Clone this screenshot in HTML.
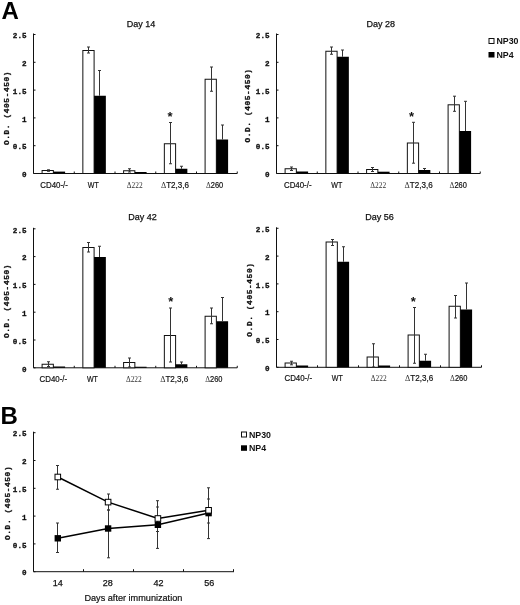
<!DOCTYPE html>
<html><head><meta charset="utf-8"><title>Figure</title>
<style>html,body{margin:0;padding:0;background:#fff;}svg{display:block;will-change:transform;}</style>
</head><body>
<svg width="520" height="605" viewBox="0 0 520 605">
<rect width="520" height="605" fill="#fff"/>
<text x="1.5" y="19" font-family="Liberation Sans, sans-serif" font-weight="bold" font-size="24" fill="#000">A</text>
<text x="0.5" y="424.3" font-family="Liberation Sans, sans-serif" font-weight="bold" font-size="24" fill="#000">B</text>
<line x1="33.5" y1="33.5" x2="33.5" y2="173.5" stroke="#111" stroke-width="1"/>
<line x1="33.5" y1="173.5" x2="35.5" y2="173.5" stroke="#111" stroke-width="1"/>
<text x="26.5" y="177.2" font-family="Liberation Mono, monospace" font-weight="bold" font-size="7.6" text-anchor="end" fill="#111" stroke="#111" stroke-width="0.3">0</text>
<line x1="33.5" y1="145.7" x2="35.5" y2="145.7" stroke="#111" stroke-width="1"/>
<text x="26.5" y="149.39999999999998" font-family="Liberation Mono, monospace" font-weight="bold" font-size="7.6" text-anchor="end" fill="#111" stroke="#111" stroke-width="0.3">0.5</text>
<line x1="33.5" y1="117.9" x2="35.5" y2="117.9" stroke="#111" stroke-width="1"/>
<text x="26.5" y="121.60000000000001" font-family="Liberation Mono, monospace" font-weight="bold" font-size="7.6" text-anchor="end" fill="#111" stroke="#111" stroke-width="0.3">1</text>
<line x1="33.5" y1="90.1" x2="35.5" y2="90.1" stroke="#111" stroke-width="1"/>
<text x="26.5" y="93.8" font-family="Liberation Mono, monospace" font-weight="bold" font-size="7.6" text-anchor="end" fill="#111" stroke="#111" stroke-width="0.3">1.5</text>
<line x1="33.5" y1="62.3" x2="35.5" y2="62.3" stroke="#111" stroke-width="1"/>
<text x="26.5" y="66.0" font-family="Liberation Mono, monospace" font-weight="bold" font-size="7.6" text-anchor="end" fill="#111" stroke="#111" stroke-width="0.3">2</text>
<line x1="33.5" y1="34.5" x2="35.5" y2="34.5" stroke="#111" stroke-width="1"/>
<text x="26.5" y="38.2" font-family="Liberation Mono, monospace" font-weight="bold" font-size="7.6" text-anchor="end" fill="#111" stroke="#111" stroke-width="0.3">2.5</text>
<text transform="translate(8.8,107.95) rotate(-90)" font-family="Liberation Mono, monospace" font-weight="bold" font-size="7.8" letter-spacing="0.62" text-anchor="middle" fill="#111" stroke="#111" stroke-width="0.3">O.D. (405-450)</text>
<line x1="33.5" y1="173.5" x2="237.25" y2="173.5" stroke="#111" stroke-width="1"/>
<line x1="74.25" y1="173.5" x2="74.25" y2="171.5" stroke="#111" stroke-width="1"/>
<line x1="115.0" y1="173.5" x2="115.0" y2="171.5" stroke="#111" stroke-width="1"/>
<line x1="155.75" y1="173.5" x2="155.75" y2="171.5" stroke="#111" stroke-width="1"/>
<line x1="196.5" y1="173.5" x2="196.5" y2="171.5" stroke="#111" stroke-width="1"/>
<line x1="237.25" y1="173.5" x2="237.25" y2="171.5" stroke="#111" stroke-width="1"/>
<text x="141" y="26.8" font-family="Liberation Sans, sans-serif" font-size="9" stroke="#111" stroke-width="0.25" text-anchor="middle" fill="#111">Day 14</text>
<rect x="42.1" y="170.5" width="11.25" height="3.0" fill="#fff" stroke="#111" stroke-width="1"/>
<rect x="53.35" y="171.6" width="11.75" height="1.9000000000000057" fill="#000"/>
<line x1="48.5" y1="169.8" x2="48.5" y2="171.3" stroke="#333" stroke-width="1"/>
<line x1="47.0" y1="169.8" x2="50.0" y2="169.8" stroke="#333" stroke-width="1"/>
<line x1="47.0" y1="171.3" x2="50.0" y2="171.3" stroke="#333" stroke-width="1"/>
<text x="54.15" y="187.7" font-family="Liberation Sans, sans-serif" font-size="8.7" textLength="27.6" lengthAdjust="spacingAndGlyphs" stroke="#111" stroke-width="0.2" text-anchor="middle" fill="#111">CD40-/-</text>
<rect x="82.85" y="50.5" width="11.25" height="123.0" fill="#fff" stroke="#111" stroke-width="1"/>
<rect x="94.1" y="95.75" width="11.75" height="77.75" fill="#000"/>
<line x1="88.5" y1="47" x2="88.5" y2="53" stroke="#333" stroke-width="1"/>
<line x1="87.0" y1="47" x2="90.0" y2="47" stroke="#333" stroke-width="1"/>
<line x1="87.0" y1="53" x2="90.0" y2="53" stroke="#333" stroke-width="1"/>
<line x1="99.5" y1="70.5" x2="99.5" y2="95.75" stroke="#333" stroke-width="1"/>
<line x1="98.0" y1="70.5" x2="101.0" y2="70.5" stroke="#333" stroke-width="1"/>
<text x="93.25" y="187.7" font-family="Liberation Sans, sans-serif" font-size="8.7" textLength="11" lengthAdjust="spacingAndGlyphs" stroke="#111" stroke-width="0.2" text-anchor="middle" fill="#111">WT</text>
<rect x="123.6" y="170.75" width="11.25" height="2.75" fill="#fff" stroke="#111" stroke-width="1"/>
<rect x="134.85" y="172" width="11.75" height="1.5" fill="#000"/>
<line x1="129.5" y1="168.75" x2="129.5" y2="172" stroke="#333" stroke-width="1"/>
<line x1="128.0" y1="168.75" x2="131.0" y2="168.75" stroke="#333" stroke-width="1"/>
<line x1="128.0" y1="172" x2="131.0" y2="172" stroke="#333" stroke-width="1"/>
<text x="134.65" y="187.7" font-family="Liberation Serif, serif" font-size="8.5" textLength="15.9" lengthAdjust="spacingAndGlyphs" text-anchor="middle" fill="#333">Δ222</text>
<rect x="164.35" y="143.75" width="11.25" height="29.75" fill="#fff" stroke="#111" stroke-width="1"/>
<rect x="175.6" y="168.75" width="11.75" height="4.75" fill="#000"/>
<line x1="170.5" y1="122.5" x2="170.5" y2="163.75" stroke="#333" stroke-width="1"/>
<line x1="169.0" y1="122.5" x2="172.0" y2="122.5" stroke="#333" stroke-width="1"/>
<line x1="169.0" y1="163.75" x2="172.0" y2="163.75" stroke="#333" stroke-width="1"/>
<line x1="181.5" y1="166.25" x2="181.5" y2="168.75" stroke="#333" stroke-width="1"/>
<line x1="180.0" y1="166.25" x2="183.0" y2="166.25" stroke="#333" stroke-width="1"/>
<text x="175.0" y="187.7" font-family="Liberation Sans, sans-serif" font-size="8.4" textLength="28.1" lengthAdjust="spacingAndGlyphs" stroke="#111" stroke-width="0.2" text-anchor="middle" fill="#111"><tspan font-family="Liberation Serif, serif" font-size="8.5" stroke="none" fill="#333">Δ</tspan>T2,3,6</text>
<rect x="205.1" y="79.25" width="11.25" height="94.25" fill="#fff" stroke="#111" stroke-width="1"/>
<rect x="216.35" y="139.5" width="11.75" height="34.0" fill="#000"/>
<line x1="211.5" y1="67" x2="211.5" y2="91.25" stroke="#333" stroke-width="1"/>
<line x1="210.0" y1="67" x2="213.0" y2="67" stroke="#333" stroke-width="1"/>
<line x1="210.0" y1="91.25" x2="213.0" y2="91.25" stroke="#333" stroke-width="1"/>
<line x1="222.5" y1="125" x2="222.5" y2="139.5" stroke="#333" stroke-width="1"/>
<line x1="221.0" y1="125" x2="224.0" y2="125" stroke="#333" stroke-width="1"/>
<text x="214.6" y="187.7" font-family="Liberation Sans, sans-serif" font-size="8.4" textLength="17.3" lengthAdjust="spacingAndGlyphs" stroke="#111" stroke-width="0.2" text-anchor="middle" fill="#111"><tspan font-family="Liberation Serif, serif" font-size="8.5" stroke="none" fill="#333">Δ</tspan>260</text>
<text x="170" y="120.95" font-family="Liberation Sans, sans-serif" font-size="13" font-weight="bold" text-anchor="middle" fill="#111">*</text>
<line x1="276.5" y1="33.5" x2="276.5" y2="173.5" stroke="#111" stroke-width="1"/>
<line x1="276.5" y1="173.5" x2="278.5" y2="173.5" stroke="#111" stroke-width="1"/>
<text x="269.5" y="177.2" font-family="Liberation Mono, monospace" font-weight="bold" font-size="7.6" text-anchor="end" fill="#111" stroke="#111" stroke-width="0.3">0</text>
<line x1="276.5" y1="145.7" x2="278.5" y2="145.7" stroke="#111" stroke-width="1"/>
<text x="269.5" y="149.39999999999998" font-family="Liberation Mono, monospace" font-weight="bold" font-size="7.6" text-anchor="end" fill="#111" stroke="#111" stroke-width="0.3">0.5</text>
<line x1="276.5" y1="117.9" x2="278.5" y2="117.9" stroke="#111" stroke-width="1"/>
<text x="269.5" y="121.60000000000001" font-family="Liberation Mono, monospace" font-weight="bold" font-size="7.6" text-anchor="end" fill="#111" stroke="#111" stroke-width="0.3">1</text>
<line x1="276.5" y1="90.1" x2="278.5" y2="90.1" stroke="#111" stroke-width="1"/>
<text x="269.5" y="93.8" font-family="Liberation Mono, monospace" font-weight="bold" font-size="7.6" text-anchor="end" fill="#111" stroke="#111" stroke-width="0.3">1.5</text>
<line x1="276.5" y1="62.3" x2="278.5" y2="62.3" stroke="#111" stroke-width="1"/>
<text x="269.5" y="66.0" font-family="Liberation Mono, monospace" font-weight="bold" font-size="7.6" text-anchor="end" fill="#111" stroke="#111" stroke-width="0.3">2</text>
<line x1="276.5" y1="34.5" x2="278.5" y2="34.5" stroke="#111" stroke-width="1"/>
<text x="269.5" y="38.2" font-family="Liberation Mono, monospace" font-weight="bold" font-size="7.6" text-anchor="end" fill="#111" stroke="#111" stroke-width="0.3">2.5</text>
<text transform="translate(249.9,105.5) rotate(-90)" font-family="Liberation Mono, monospace" font-weight="bold" font-size="7.8" letter-spacing="0.62" text-anchor="middle" fill="#111" stroke="#111" stroke-width="0.3">O.D. (405-450)</text>
<line x1="276.5" y1="173.5" x2="480.25" y2="173.5" stroke="#111" stroke-width="1"/>
<line x1="317.25" y1="173.5" x2="317.25" y2="171.5" stroke="#111" stroke-width="1"/>
<line x1="358.0" y1="173.5" x2="358.0" y2="171.5" stroke="#111" stroke-width="1"/>
<line x1="398.75" y1="173.5" x2="398.75" y2="171.5" stroke="#111" stroke-width="1"/>
<line x1="439.5" y1="173.5" x2="439.5" y2="171.5" stroke="#111" stroke-width="1"/>
<line x1="480.25" y1="173.5" x2="480.25" y2="171.5" stroke="#111" stroke-width="1"/>
<text x="380.8" y="26.6" font-family="Liberation Sans, sans-serif" font-size="9" stroke="#111" stroke-width="0.25" text-anchor="middle" fill="#111">Day 28</text>
<rect x="285.1" y="168.75" width="11.25" height="4.75" fill="#fff" stroke="#111" stroke-width="1"/>
<rect x="296.35" y="171.5" width="11.75" height="2.0" fill="#000"/>
<line x1="291.5" y1="167" x2="291.5" y2="170.5" stroke="#333" stroke-width="1"/>
<line x1="290.0" y1="167" x2="293.0" y2="167" stroke="#333" stroke-width="1"/>
<line x1="290.0" y1="170.5" x2="293.0" y2="170.5" stroke="#333" stroke-width="1"/>
<text x="297.75" y="187.6" font-family="Liberation Sans, sans-serif" font-size="8.7" textLength="27.6" lengthAdjust="spacingAndGlyphs" stroke="#111" stroke-width="0.2" text-anchor="middle" fill="#111">CD40-/-</text>
<rect x="325.85" y="51.25" width="11.25" height="122.25" fill="#fff" stroke="#111" stroke-width="1"/>
<rect x="337.1" y="56.75" width="11.75" height="116.75" fill="#000"/>
<line x1="331.5" y1="47" x2="331.5" y2="54.25" stroke="#333" stroke-width="1"/>
<line x1="330.0" y1="47" x2="333.0" y2="47" stroke="#333" stroke-width="1"/>
<line x1="330.0" y1="54.25" x2="333.0" y2="54.25" stroke="#333" stroke-width="1"/>
<line x1="342.5" y1="50" x2="342.5" y2="56.75" stroke="#333" stroke-width="1"/>
<line x1="341.0" y1="50" x2="344.0" y2="50" stroke="#333" stroke-width="1"/>
<text x="336.85" y="187.6" font-family="Liberation Sans, sans-serif" font-size="8.7" textLength="11" lengthAdjust="spacingAndGlyphs" stroke="#111" stroke-width="0.2" text-anchor="middle" fill="#111">WT</text>
<rect x="366.6" y="169.5" width="11.25" height="4.0" fill="#fff" stroke="#111" stroke-width="1"/>
<rect x="377.85" y="171.7" width="11.75" height="1.8000000000000114" fill="#000"/>
<line x1="372.5" y1="167.5" x2="372.5" y2="171.5" stroke="#333" stroke-width="1"/>
<line x1="371.0" y1="167.5" x2="374.0" y2="167.5" stroke="#333" stroke-width="1"/>
<line x1="371.0" y1="171.5" x2="374.0" y2="171.5" stroke="#333" stroke-width="1"/>
<text x="378.25" y="187.6" font-family="Liberation Serif, serif" font-size="8.5" textLength="15.9" lengthAdjust="spacingAndGlyphs" text-anchor="middle" fill="#333">Δ222</text>
<rect x="407.35" y="143" width="11.25" height="30.5" fill="#fff" stroke="#111" stroke-width="1"/>
<rect x="418.6" y="170" width="11.75" height="3.5" fill="#000"/>
<line x1="413.5" y1="122.3" x2="413.5" y2="163.2" stroke="#333" stroke-width="1"/>
<line x1="412.0" y1="122.3" x2="415.0" y2="122.3" stroke="#333" stroke-width="1"/>
<line x1="412.0" y1="163.2" x2="415.0" y2="163.2" stroke="#333" stroke-width="1"/>
<line x1="424.5" y1="168.5" x2="424.5" y2="170" stroke="#333" stroke-width="1"/>
<line x1="423.0" y1="168.5" x2="426.0" y2="168.5" stroke="#333" stroke-width="1"/>
<text x="418.6" y="187.6" font-family="Liberation Sans, sans-serif" font-size="8.4" textLength="28.1" lengthAdjust="spacingAndGlyphs" stroke="#111" stroke-width="0.2" text-anchor="middle" fill="#111"><tspan font-family="Liberation Serif, serif" font-size="8.5" stroke="none" fill="#333">Δ</tspan>T2,3,6</text>
<rect x="448.1" y="104.8" width="11.25" height="68.7" fill="#fff" stroke="#111" stroke-width="1"/>
<rect x="459.35" y="131" width="11.75" height="42.5" fill="#000"/>
<line x1="454.5" y1="96.2" x2="454.5" y2="111.3" stroke="#333" stroke-width="1"/>
<line x1="453.0" y1="96.2" x2="456.0" y2="96.2" stroke="#333" stroke-width="1"/>
<line x1="453.0" y1="111.3" x2="456.0" y2="111.3" stroke="#333" stroke-width="1"/>
<line x1="465.5" y1="101.3" x2="465.5" y2="131" stroke="#333" stroke-width="1"/>
<line x1="464.0" y1="101.3" x2="467.0" y2="101.3" stroke="#333" stroke-width="1"/>
<text x="458.20000000000005" y="187.6" font-family="Liberation Sans, sans-serif" font-size="8.4" textLength="17.3" lengthAdjust="spacingAndGlyphs" stroke="#111" stroke-width="0.2" text-anchor="middle" fill="#111"><tspan font-family="Liberation Serif, serif" font-size="8.5" stroke="none" fill="#333">Δ</tspan>260</text>
<text x="411.5" y="121.2" font-family="Liberation Sans, sans-serif" font-size="13" font-weight="bold" text-anchor="middle" fill="#111">*</text>
<line x1="33.5" y1="227.8" x2="33.5" y2="367.8" stroke="#111" stroke-width="1"/>
<line x1="33.5" y1="367.8" x2="35.5" y2="367.8" stroke="#111" stroke-width="1"/>
<text x="26.5" y="371.5" font-family="Liberation Mono, monospace" font-weight="bold" font-size="7.6" text-anchor="end" fill="#111" stroke="#111" stroke-width="0.3">0</text>
<line x1="33.5" y1="340.0" x2="35.5" y2="340.0" stroke="#111" stroke-width="1"/>
<text x="26.5" y="343.7" font-family="Liberation Mono, monospace" font-weight="bold" font-size="7.6" text-anchor="end" fill="#111" stroke="#111" stroke-width="0.3">0.5</text>
<line x1="33.5" y1="312.2" x2="35.5" y2="312.2" stroke="#111" stroke-width="1"/>
<text x="26.5" y="315.9" font-family="Liberation Mono, monospace" font-weight="bold" font-size="7.6" text-anchor="end" fill="#111" stroke="#111" stroke-width="0.3">1</text>
<line x1="33.5" y1="284.4" x2="35.5" y2="284.4" stroke="#111" stroke-width="1"/>
<text x="26.5" y="288.09999999999997" font-family="Liberation Mono, monospace" font-weight="bold" font-size="7.6" text-anchor="end" fill="#111" stroke="#111" stroke-width="0.3">1.5</text>
<line x1="33.5" y1="256.6" x2="35.5" y2="256.6" stroke="#111" stroke-width="1"/>
<text x="26.5" y="260.3" font-family="Liberation Mono, monospace" font-weight="bold" font-size="7.6" text-anchor="end" fill="#111" stroke="#111" stroke-width="0.3">2</text>
<line x1="33.5" y1="228.8" x2="35.5" y2="228.8" stroke="#111" stroke-width="1"/>
<text x="26.5" y="232.5" font-family="Liberation Mono, monospace" font-weight="bold" font-size="7.6" text-anchor="end" fill="#111" stroke="#111" stroke-width="0.3">2.5</text>
<text transform="translate(9.1,301.0) rotate(-90)" font-family="Liberation Mono, monospace" font-weight="bold" font-size="7.8" letter-spacing="0.62" text-anchor="middle" fill="#111" stroke="#111" stroke-width="0.3">O.D. (405-450)</text>
<line x1="33.5" y1="367.8" x2="237.25" y2="367.8" stroke="#111" stroke-width="1"/>
<line x1="74.25" y1="367.8" x2="74.25" y2="365.8" stroke="#111" stroke-width="1"/>
<line x1="115.0" y1="367.8" x2="115.0" y2="365.8" stroke="#111" stroke-width="1"/>
<line x1="155.75" y1="367.8" x2="155.75" y2="365.8" stroke="#111" stroke-width="1"/>
<line x1="196.5" y1="367.8" x2="196.5" y2="365.8" stroke="#111" stroke-width="1"/>
<line x1="237.25" y1="367.8" x2="237.25" y2="365.8" stroke="#111" stroke-width="1"/>
<text x="142.5" y="219.7" font-family="Liberation Sans, sans-serif" font-size="9" stroke="#111" stroke-width="0.25" text-anchor="middle" fill="#111">Day 42</text>
<rect x="42.1" y="364.25" width="11.25" height="3.5500000000000114" fill="#fff" stroke="#111" stroke-width="1"/>
<rect x="53.35" y="366.5" width="11.75" height="1.3000000000000114" fill="#000"/>
<line x1="48.5" y1="361.75" x2="48.5" y2="366.5" stroke="#333" stroke-width="1"/>
<line x1="47.0" y1="361.75" x2="50.0" y2="361.75" stroke="#333" stroke-width="1"/>
<line x1="47.0" y1="366.5" x2="50.0" y2="366.5" stroke="#333" stroke-width="1"/>
<text x="53.35" y="381.7" font-family="Liberation Sans, sans-serif" font-size="8.7" textLength="27.6" lengthAdjust="spacingAndGlyphs" stroke="#111" stroke-width="0.2" text-anchor="middle" fill="#111">CD40-/-</text>
<rect x="82.85" y="247.5" width="11.25" height="120.30000000000001" fill="#fff" stroke="#111" stroke-width="1"/>
<rect x="94.1" y="257" width="11.75" height="110.80000000000001" fill="#000"/>
<line x1="88.5" y1="242.5" x2="88.5" y2="252" stroke="#333" stroke-width="1"/>
<line x1="87.0" y1="242.5" x2="90.0" y2="242.5" stroke="#333" stroke-width="1"/>
<line x1="87.0" y1="252" x2="90.0" y2="252" stroke="#333" stroke-width="1"/>
<line x1="99.5" y1="246.25" x2="99.5" y2="257" stroke="#333" stroke-width="1"/>
<line x1="98.0" y1="246.25" x2="101.0" y2="246.25" stroke="#333" stroke-width="1"/>
<text x="92.45" y="381.7" font-family="Liberation Sans, sans-serif" font-size="8.7" textLength="11" lengthAdjust="spacingAndGlyphs" stroke="#111" stroke-width="0.2" text-anchor="middle" fill="#111">WT</text>
<rect x="123.6" y="362.5" width="11.25" height="5.300000000000011" fill="#fff" stroke="#111" stroke-width="1"/>
<rect x="134.85" y="366.75" width="11.75" height="1.0500000000000114" fill="#000"/>
<line x1="129.5" y1="358" x2="129.5" y2="367" stroke="#333" stroke-width="1"/>
<line x1="128.0" y1="358" x2="131.0" y2="358" stroke="#333" stroke-width="1"/>
<line x1="128.0" y1="367" x2="131.0" y2="367" stroke="#333" stroke-width="1"/>
<text x="133.85" y="381.7" font-family="Liberation Serif, serif" font-size="8.5" textLength="15.9" lengthAdjust="spacingAndGlyphs" text-anchor="middle" fill="#333">Δ222</text>
<rect x="164.35" y="335.5" width="11.25" height="32.30000000000001" fill="#fff" stroke="#111" stroke-width="1"/>
<rect x="175.6" y="364.25" width="11.75" height="3.5500000000000114" fill="#000"/>
<line x1="170.5" y1="308" x2="170.5" y2="362" stroke="#333" stroke-width="1"/>
<line x1="169.0" y1="308" x2="172.0" y2="308" stroke="#333" stroke-width="1"/>
<line x1="169.0" y1="362" x2="172.0" y2="362" stroke="#333" stroke-width="1"/>
<line x1="181.5" y1="362" x2="181.5" y2="364.25" stroke="#333" stroke-width="1"/>
<line x1="180.0" y1="362" x2="183.0" y2="362" stroke="#333" stroke-width="1"/>
<text x="174.2" y="381.7" font-family="Liberation Sans, sans-serif" font-size="8.4" textLength="28.1" lengthAdjust="spacingAndGlyphs" stroke="#111" stroke-width="0.2" text-anchor="middle" fill="#111"><tspan font-family="Liberation Serif, serif" font-size="8.5" stroke="none" fill="#333">Δ</tspan>T2,3,6</text>
<rect x="205.1" y="316.25" width="11.25" height="51.55000000000001" fill="#fff" stroke="#111" stroke-width="1"/>
<rect x="216.35" y="321.25" width="11.75" height="46.55000000000001" fill="#000"/>
<line x1="211.5" y1="308" x2="211.5" y2="323.75" stroke="#333" stroke-width="1"/>
<line x1="210.0" y1="308" x2="213.0" y2="308" stroke="#333" stroke-width="1"/>
<line x1="210.0" y1="323.75" x2="213.0" y2="323.75" stroke="#333" stroke-width="1"/>
<line x1="222.5" y1="297.5" x2="222.5" y2="321.25" stroke="#333" stroke-width="1"/>
<line x1="221.0" y1="297.5" x2="224.0" y2="297.5" stroke="#333" stroke-width="1"/>
<text x="213.79999999999998" y="381.7" font-family="Liberation Sans, sans-serif" font-size="8.4" textLength="17.3" lengthAdjust="spacingAndGlyphs" stroke="#111" stroke-width="0.2" text-anchor="middle" fill="#111"><tspan font-family="Liberation Serif, serif" font-size="8.5" stroke="none" fill="#333">Δ</tspan>260</text>
<text x="170.75" y="305.95" font-family="Liberation Sans, sans-serif" font-size="13" font-weight="bold" text-anchor="middle" fill="#111">*</text>
<line x1="276.5" y1="227.3" x2="276.5" y2="367.3" stroke="#111" stroke-width="1"/>
<line x1="276.5" y1="367.3" x2="278.5" y2="367.3" stroke="#111" stroke-width="1"/>
<text x="269.5" y="371.0" font-family="Liberation Mono, monospace" font-weight="bold" font-size="7.6" text-anchor="end" fill="#111" stroke="#111" stroke-width="0.3">0</text>
<line x1="276.5" y1="339.5" x2="278.5" y2="339.5" stroke="#111" stroke-width="1"/>
<text x="269.5" y="343.2" font-family="Liberation Mono, monospace" font-weight="bold" font-size="7.6" text-anchor="end" fill="#111" stroke="#111" stroke-width="0.3">0.5</text>
<line x1="276.5" y1="311.7" x2="278.5" y2="311.7" stroke="#111" stroke-width="1"/>
<text x="269.5" y="315.4" font-family="Liberation Mono, monospace" font-weight="bold" font-size="7.6" text-anchor="end" fill="#111" stroke="#111" stroke-width="0.3">1</text>
<line x1="276.5" y1="283.9" x2="278.5" y2="283.9" stroke="#111" stroke-width="1"/>
<text x="269.5" y="287.59999999999997" font-family="Liberation Mono, monospace" font-weight="bold" font-size="7.6" text-anchor="end" fill="#111" stroke="#111" stroke-width="0.3">1.5</text>
<line x1="276.5" y1="256.1" x2="278.5" y2="256.1" stroke="#111" stroke-width="1"/>
<text x="269.5" y="259.8" font-family="Liberation Mono, monospace" font-weight="bold" font-size="7.6" text-anchor="end" fill="#111" stroke="#111" stroke-width="0.3">2</text>
<line x1="276.5" y1="228.3" x2="278.5" y2="228.3" stroke="#111" stroke-width="1"/>
<text x="269.5" y="232.0" font-family="Liberation Mono, monospace" font-weight="bold" font-size="7.6" text-anchor="end" fill="#111" stroke="#111" stroke-width="0.3">2.5</text>
<text transform="translate(252.25,299.59999999999997) rotate(-90)" font-family="Liberation Mono, monospace" font-weight="bold" font-size="7.8" letter-spacing="0.62" text-anchor="middle" fill="#111" stroke="#111" stroke-width="0.3">O.D. (405-450)</text>
<line x1="276.5" y1="367.3" x2="481.5" y2="367.3" stroke="#111" stroke-width="1"/>
<line x1="317.5" y1="367.3" x2="317.5" y2="365.3" stroke="#111" stroke-width="1"/>
<line x1="358.5" y1="367.3" x2="358.5" y2="365.3" stroke="#111" stroke-width="1"/>
<line x1="399.5" y1="367.3" x2="399.5" y2="365.3" stroke="#111" stroke-width="1"/>
<line x1="440.5" y1="367.3" x2="440.5" y2="365.3" stroke="#111" stroke-width="1"/>
<line x1="481.5" y1="367.3" x2="481.5" y2="365.3" stroke="#111" stroke-width="1"/>
<text x="379.6" y="219.7" font-family="Liberation Sans, sans-serif" font-size="9" stroke="#111" stroke-width="0.25" text-anchor="middle" fill="#111">Day 56</text>
<rect x="285.1" y="363" width="11.25" height="4.300000000000011" fill="#fff" stroke="#111" stroke-width="1"/>
<rect x="296.35" y="365.5" width="11.75" height="1.8000000000000114" fill="#000"/>
<line x1="291.5" y1="361.25" x2="291.5" y2="364.8" stroke="#333" stroke-width="1"/>
<line x1="290.0" y1="361.25" x2="293.0" y2="361.25" stroke="#333" stroke-width="1"/>
<line x1="290.0" y1="364.8" x2="293.0" y2="364.8" stroke="#333" stroke-width="1"/>
<text x="298.25" y="381.2" font-family="Liberation Sans, sans-serif" font-size="8.7" textLength="27.6" lengthAdjust="spacingAndGlyphs" stroke="#111" stroke-width="0.2" text-anchor="middle" fill="#111">CD40-/-</text>
<rect x="326.1" y="242" width="11.25" height="125.30000000000001" fill="#fff" stroke="#111" stroke-width="1"/>
<rect x="337.35" y="261.75" width="11.75" height="105.55000000000001" fill="#000"/>
<line x1="332.5" y1="239.5" x2="332.5" y2="245.5" stroke="#333" stroke-width="1"/>
<line x1="331.0" y1="239.5" x2="334.0" y2="239.5" stroke="#333" stroke-width="1"/>
<line x1="331.0" y1="245.5" x2="334.0" y2="245.5" stroke="#333" stroke-width="1"/>
<line x1="343.5" y1="246.75" x2="343.5" y2="261.75" stroke="#333" stroke-width="1"/>
<line x1="342.0" y1="246.75" x2="345.0" y2="246.75" stroke="#333" stroke-width="1"/>
<text x="337.35" y="381.2" font-family="Liberation Sans, sans-serif" font-size="8.7" textLength="11" lengthAdjust="spacingAndGlyphs" stroke="#111" stroke-width="0.2" text-anchor="middle" fill="#111">WT</text>
<rect x="367.1" y="357" width="11.25" height="10.300000000000011" fill="#fff" stroke="#111" stroke-width="1"/>
<rect x="378.35" y="365.5" width="11.75" height="1.8000000000000114" fill="#000"/>
<line x1="373.5" y1="343.75" x2="373.5" y2="367" stroke="#333" stroke-width="1"/>
<line x1="372.0" y1="343.75" x2="375.0" y2="343.75" stroke="#333" stroke-width="1"/>
<line x1="372.0" y1="367" x2="375.0" y2="367" stroke="#333" stroke-width="1"/>
<text x="378.75" y="381.2" font-family="Liberation Serif, serif" font-size="8.5" textLength="15.9" lengthAdjust="spacingAndGlyphs" text-anchor="middle" fill="#333">Δ222</text>
<rect x="408.1" y="335" width="11.25" height="32.30000000000001" fill="#fff" stroke="#111" stroke-width="1"/>
<rect x="419.35" y="360.75" width="11.75" height="6.550000000000011" fill="#000"/>
<line x1="414.5" y1="307.5" x2="414.5" y2="363.25" stroke="#333" stroke-width="1"/>
<line x1="413.0" y1="307.5" x2="416.0" y2="307.5" stroke="#333" stroke-width="1"/>
<line x1="413.0" y1="363.25" x2="416.0" y2="363.25" stroke="#333" stroke-width="1"/>
<line x1="425.5" y1="354.25" x2="425.5" y2="360.75" stroke="#333" stroke-width="1"/>
<line x1="424.0" y1="354.25" x2="427.0" y2="354.25" stroke="#333" stroke-width="1"/>
<text x="419.1" y="381.2" font-family="Liberation Sans, sans-serif" font-size="8.4" textLength="28.1" lengthAdjust="spacingAndGlyphs" stroke="#111" stroke-width="0.2" text-anchor="middle" fill="#111"><tspan font-family="Liberation Serif, serif" font-size="8.5" stroke="none" fill="#333">Δ</tspan>T2,3,6</text>
<rect x="449.1" y="306.25" width="11.25" height="61.05000000000001" fill="#fff" stroke="#111" stroke-width="1"/>
<rect x="460.35" y="309.5" width="11.75" height="57.80000000000001" fill="#000"/>
<line x1="455.5" y1="295.5" x2="455.5" y2="318" stroke="#333" stroke-width="1"/>
<line x1="454.0" y1="295.5" x2="457.0" y2="295.5" stroke="#333" stroke-width="1"/>
<line x1="454.0" y1="318" x2="457.0" y2="318" stroke="#333" stroke-width="1"/>
<line x1="466.5" y1="283" x2="466.5" y2="309.5" stroke="#333" stroke-width="1"/>
<line x1="465.0" y1="283" x2="468.0" y2="283" stroke="#333" stroke-width="1"/>
<text x="458.70000000000005" y="381.2" font-family="Liberation Sans, sans-serif" font-size="8.4" textLength="17.3" lengthAdjust="spacingAndGlyphs" stroke="#111" stroke-width="0.2" text-anchor="middle" fill="#111"><tspan font-family="Liberation Serif, serif" font-size="8.5" stroke="none" fill="#333">Δ</tspan>260</text>
<text x="413.25" y="305.95" font-family="Liberation Sans, sans-serif" font-size="13" font-weight="bold" text-anchor="middle" fill="#111">*</text>
<rect x="489.0" y="38.5" width="5" height="5" fill="#fff" stroke="#111" stroke-width="1"/>
<text x="496.5" y="44.3" font-family="Liberation Sans, sans-serif" font-weight="bold" font-size="8.8" fill="#111">NP30</text>
<rect x="488.5" y="52" width="6" height="5.5" fill="#000"/>
<text x="496.5" y="58" font-family="Liberation Sans, sans-serif" font-weight="bold" font-size="8.8" fill="#111">NP4</text>
<rect x="241.5" y="432.0" width="5" height="5" fill="#fff" stroke="#111" stroke-width="1"/>
<text x="249" y="437.8" font-family="Liberation Sans, sans-serif" font-weight="bold" font-size="8.8" fill="#111">NP30</text>
<rect x="241" y="445.3" width="6" height="5.5" fill="#000"/>
<text x="249" y="451.3" font-family="Liberation Sans, sans-serif" font-weight="bold" font-size="8.8" fill="#111">NP4</text>
<line x1="33.5" y1="431.70000000000005" x2="33.5" y2="571.7" stroke="#111" stroke-width="1"/>
<line x1="33.5" y1="571.7" x2="35.5" y2="571.7" stroke="#111" stroke-width="1"/>
<text x="26.5" y="575.4000000000001" font-family="Liberation Mono, monospace" font-weight="bold" font-size="7.6" text-anchor="end" fill="#111" stroke="#111" stroke-width="0.3">0</text>
<line x1="33.5" y1="543.9000000000001" x2="35.5" y2="543.9000000000001" stroke="#111" stroke-width="1"/>
<text x="26.5" y="547.6000000000001" font-family="Liberation Mono, monospace" font-weight="bold" font-size="7.6" text-anchor="end" fill="#111" stroke="#111" stroke-width="0.3">0.5</text>
<line x1="33.5" y1="516.1" x2="35.5" y2="516.1" stroke="#111" stroke-width="1"/>
<text x="26.5" y="519.8000000000001" font-family="Liberation Mono, monospace" font-weight="bold" font-size="7.6" text-anchor="end" fill="#111" stroke="#111" stroke-width="0.3">1</text>
<line x1="33.5" y1="488.30000000000007" x2="35.5" y2="488.30000000000007" stroke="#111" stroke-width="1"/>
<text x="26.5" y="492.00000000000006" font-family="Liberation Mono, monospace" font-weight="bold" font-size="7.6" text-anchor="end" fill="#111" stroke="#111" stroke-width="0.3">1.5</text>
<line x1="33.5" y1="460.50000000000006" x2="35.5" y2="460.50000000000006" stroke="#111" stroke-width="1"/>
<text x="26.5" y="464.20000000000005" font-family="Liberation Mono, monospace" font-weight="bold" font-size="7.6" text-anchor="end" fill="#111" stroke="#111" stroke-width="0.3">2</text>
<line x1="33.5" y1="432.70000000000005" x2="35.5" y2="432.70000000000005" stroke="#111" stroke-width="1"/>
<text x="26.5" y="436.40000000000003" font-family="Liberation Mono, monospace" font-weight="bold" font-size="7.6" text-anchor="end" fill="#111" stroke="#111" stroke-width="0.3">2.5</text>
<text transform="translate(9.9,502.9) rotate(-90)" font-family="Liberation Mono, monospace" font-weight="bold" font-size="7.8" letter-spacing="0.62" text-anchor="middle" fill="#111" stroke="#111" stroke-width="0.3">O.D. (405-450)</text>
<line x1="33.5" y1="571.7" x2="234" y2="571.7" stroke="#111" stroke-width="1"/>
<line x1="83.5" y1="571.7" x2="83.5" y2="569.2" stroke="#111" stroke-width="1"/>
<line x1="133.5" y1="571.7" x2="133.5" y2="569.2" stroke="#111" stroke-width="1"/>
<line x1="183.5" y1="571.7" x2="183.5" y2="569.2" stroke="#111" stroke-width="1"/>
<line x1="233.5" y1="571.7" x2="233.5" y2="569.2" stroke="#111" stroke-width="1"/>
<text x="57.8" y="586.3000000000001" font-family="Liberation Sans, sans-serif" font-size="9" stroke="#111" stroke-width="0.25" text-anchor="middle" fill="#111">14</text>
<text x="107.8" y="586.3000000000001" font-family="Liberation Sans, sans-serif" font-size="9" stroke="#111" stroke-width="0.25" text-anchor="middle" fill="#111">28</text>
<text x="158.4" y="586.3000000000001" font-family="Liberation Sans, sans-serif" font-size="9" stroke="#111" stroke-width="0.25" text-anchor="middle" fill="#111">42</text>
<text x="209.2" y="586.3000000000001" font-family="Liberation Sans, sans-serif" font-size="9" stroke="#111" stroke-width="0.25" text-anchor="middle" fill="#111">56</text>
<text x="133.4" y="600.9000000000001" font-family="Liberation Sans, sans-serif" font-size="9.15" stroke="#111" stroke-width="0.2" text-anchor="middle" fill="#111">Days after immunization</text>
<line x1="57.5" y1="465.5" x2="57.5" y2="489.25" stroke="#333" stroke-width="1"/>
<line x1="56.0" y1="465.5" x2="59.0" y2="465.5" stroke="#333" stroke-width="1"/>
<line x1="56.0" y1="489.25" x2="59.0" y2="489.25" stroke="#333" stroke-width="1"/>
<line x1="108.5" y1="494" x2="108.5" y2="510" stroke="#333" stroke-width="1"/>
<line x1="107.0" y1="494" x2="110.0" y2="494" stroke="#333" stroke-width="1"/>
<line x1="107.0" y1="510" x2="110.0" y2="510" stroke="#333" stroke-width="1"/>
<line x1="157.5" y1="507" x2="157.5" y2="531.5" stroke="#333" stroke-width="1"/>
<line x1="156.0" y1="507" x2="159.0" y2="507" stroke="#333" stroke-width="1"/>
<line x1="156.0" y1="531.5" x2="159.0" y2="531.5" stroke="#333" stroke-width="1"/>
<line x1="208.5" y1="499" x2="208.5" y2="523" stroke="#333" stroke-width="1"/>
<line x1="207.0" y1="499" x2="210.0" y2="499" stroke="#333" stroke-width="1"/>
<line x1="207.0" y1="523" x2="210.0" y2="523" stroke="#333" stroke-width="1"/>
<line x1="57.5" y1="523" x2="57.5" y2="552.5" stroke="#333" stroke-width="1"/>
<line x1="56.0" y1="523" x2="59.0" y2="523" stroke="#333" stroke-width="1"/>
<line x1="56.0" y1="552.5" x2="59.0" y2="552.5" stroke="#333" stroke-width="1"/>
<line x1="108.5" y1="510" x2="108.5" y2="557.8" stroke="#333" stroke-width="1"/>
<line x1="107.0" y1="510" x2="110.0" y2="510" stroke="#333" stroke-width="1"/>
<line x1="107.0" y1="557.8" x2="110.0" y2="557.8" stroke="#333" stroke-width="1"/>
<line x1="157.5" y1="500.7" x2="157.5" y2="548.4" stroke="#333" stroke-width="1"/>
<line x1="156.0" y1="500.7" x2="159.0" y2="500.7" stroke="#333" stroke-width="1"/>
<line x1="156.0" y1="548.4" x2="159.0" y2="548.4" stroke="#333" stroke-width="1"/>
<line x1="208.5" y1="487.8" x2="208.5" y2="538.6" stroke="#333" stroke-width="1"/>
<line x1="207.0" y1="487.8" x2="210.0" y2="487.8" stroke="#333" stroke-width="1"/>
<line x1="207.0" y1="538.6" x2="210.0" y2="538.6" stroke="#333" stroke-width="1"/>
<polyline points="57.8,477 108.1,502.1 157.9,518.5 208.6,510.3" fill="none" stroke="#000" stroke-width="1.5"/>
<polyline points="57.8,538.3 108.1,528.5 157.9,524.8 208.6,513.1" fill="none" stroke="#000" stroke-width="1.5"/>
<rect x="54.599999999999994" y="535.0999999999999" width="6.4" height="6.4" fill="#000"/>
<rect x="104.89999999999999" y="525.3" width="6.4" height="6.4" fill="#000"/>
<rect x="154.70000000000002" y="521.5999999999999" width="6.4" height="6.4" fill="#000"/>
<rect x="205.4" y="509.90000000000003" width="6.4" height="6.4" fill="#000"/>
<rect x="55.0" y="474.2" width="5.6" height="5.6" fill="#fff" stroke="#000" stroke-width="1"/>
<rect x="105.3" y="499.3" width="5.6" height="5.6" fill="#fff" stroke="#000" stroke-width="1"/>
<rect x="155.1" y="515.7" width="5.6" height="5.6" fill="#fff" stroke="#000" stroke-width="1"/>
<rect x="205.79999999999998" y="507.5" width="5.6" height="5.6" fill="#fff" stroke="#000" stroke-width="1"/>
</svg>
</body></html>
